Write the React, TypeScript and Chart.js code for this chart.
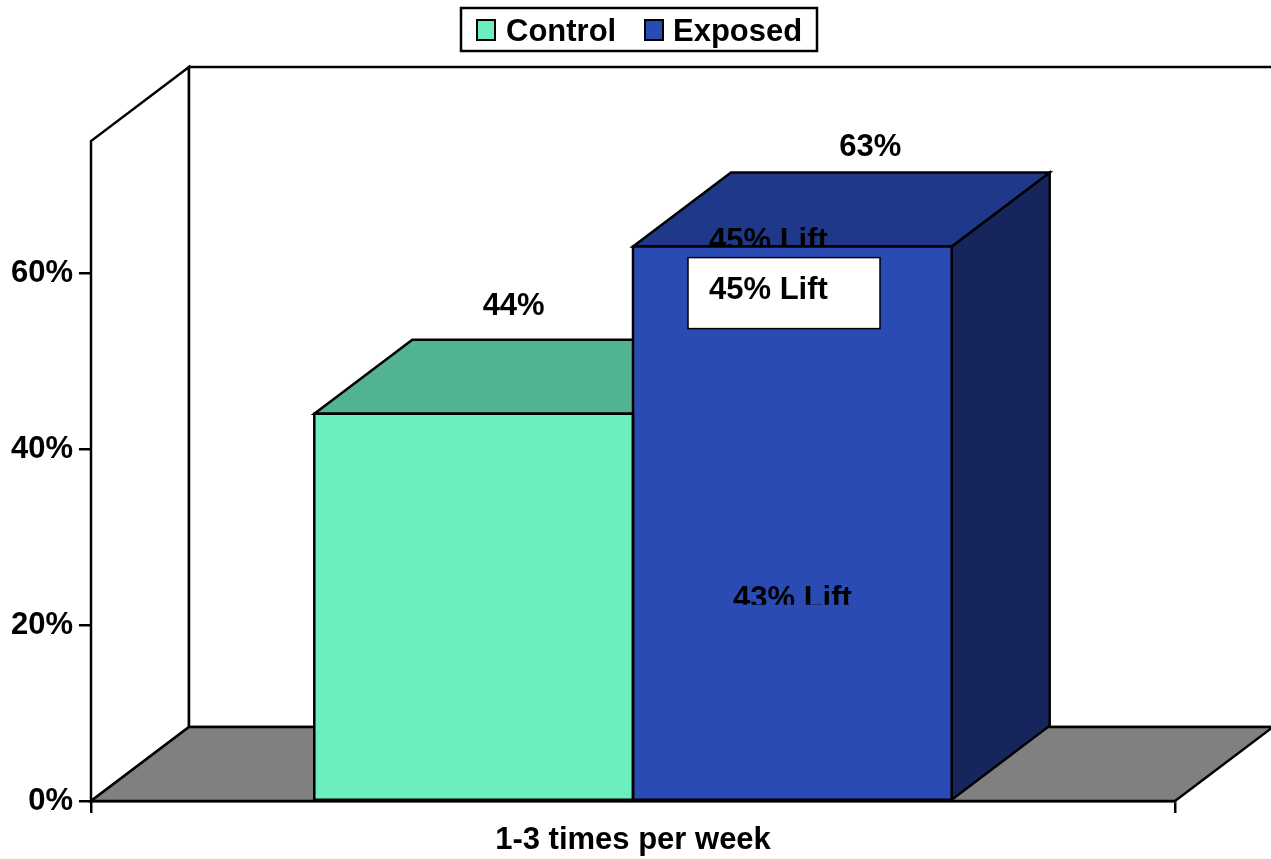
import React, { useEffect, useRef } from 'react';
import { Chart, registerables } from 'chart.js';

Chart.register(...registerables);

// ---- data ----
const categories = ['1-3 times per week'];
const seriesNames = ['Control', 'Exposed'];
const controlValues = [44];
const exposedValues = [63];
const yTickValues = [0, 20, 40, 60];
const yMax = 75;
const liftNotes = ['45% Lift', '43% Lift'];

// ---- styling ----
const W = 1271;
const H = 859;
const FONT = '"Liberation Sans", Arial, Helvetica, sans-serif';
const DEPTH_X = 98;
const DEPTH_Y = 74;
const EDGE = 2.5;
const FLOOR = 'rgb(128,128,128)';
const palette = [
  { front: 'rgb(108,239,190)', top: 'rgb(81,179,143)', side: 'rgb(54,120,95)' },
  { front: 'rgb(42,75,180)', top: 'rgb(32,56,137)', side: 'rgb(22,38,92)' },
];
// value label offsets relative to each bar's front centre / back top edge
const valueLabelShift = [
  { dx: 40, dy: -33 },
  { dx: 78, dy: -25 },
];

type Pt = [number, number];

function poly(ctx: CanvasRenderingContext2D, pts: Pt[], fill?: string) {
  ctx.beginPath();
  ctx.moveTo(pts[0][0], pts[0][1]);
  for (let i = 1; i < pts.length; i++) ctx.lineTo(pts[i][0], pts[i][1]);
  ctx.closePath();
  if (fill) {
    ctx.fillStyle = fill;
    ctx.fill();
  }
  ctx.lineWidth = EDGE;
  ctx.strokeStyle = '#000';
  ctx.lineJoin = 'miter';
  ctx.stroke();
}

const boldFont = `bold 31px ${FONT}`;

const box3d = {
  id: 'box3d',
  beforeDatasetsDraw(chart: any) {
    const { ctx, chartArea: a, scales } = chart;
    const y = scales.y;
    const top = y.getPixelForValue(yMax);
    const bottom = y.getPixelForValue(0);
    ctx.save();
    // side wall, back wall, floor
    poly(ctx, [[a.left, bottom], [a.left, top], [a.left + DEPTH_X, top - DEPTH_Y], [a.left + DEPTH_X, bottom - DEPTH_Y]], '#fff');
    poly(ctx, [[a.left + DEPTH_X, top - DEPTH_Y], [a.right + DEPTH_X, top - DEPTH_Y], [a.right + DEPTH_X, bottom - DEPTH_Y], [a.left + DEPTH_X, bottom - DEPTH_Y]], '#fff');
    poly(ctx, [[a.left, bottom], [a.right, bottom], [a.right + DEPTH_X, bottom - DEPTH_Y], [a.left + DEPTH_X, bottom - DEPTH_Y]], FLOOR);

    // bar side and top faces (front faces are drawn by the bar controller)
    chart.data.datasets.forEach((_ds: any, di: number) => {
      const meta = chart.getDatasetMeta(di);
      meta.data.forEach((bar: any) => {
        const L = bar.x - bar.width / 2;
        const R = bar.x + bar.width / 2;
        const t = bar.y;
        const b = bar.base;
        poly(ctx, [[R, t], [R + DEPTH_X, t - DEPTH_Y], [R + DEPTH_X, b - DEPTH_Y], [R, b]], palette[di].side);
        poly(ctx, [[L, t], [R, t], [R + DEPTH_X, t - DEPTH_Y], [L + DEPTH_X, t - DEPTH_Y]], palette[di].top);
      });
    });

    // note text sitting on the top face of the exposed bar
    const ex = chart.getDatasetMeta(1).data[0];
    ctx.font = boldFont;
    ctx.fillStyle = '#000';
    ctx.textAlign = 'left';
    ctx.textBaseline = 'alphabetic';
    ctx.fillText(liftNotes[0], ex.x - ex.width / 2 + 76, ex.y + 3);
    ctx.restore();
  },
  afterDatasetsDraw(chart: any) {
    const { ctx } = chart;
    ctx.save();
    // re-stroke the bar fronts with a heavier edge
    chart.data.datasets.forEach((_ds: any, di: number) => {
      chart.getDatasetMeta(di).data.forEach((bar: any) => {
        const L = bar.x - bar.width / 2;
        const R = bar.x + bar.width / 2;
        poly(ctx, [[L, bar.y], [R, bar.y], [R, bar.base], [L, bar.base]]);
      });
    });

    ctx.font = boldFont;
    ctx.fillStyle = '#000';
    ctx.textAlign = 'center';
    ctx.textBaseline = 'middle';
    // value labels above each bar
    chart.data.datasets.forEach((ds: any, di: number) => {
      const meta = chart.getDatasetMeta(di);
      meta.data.forEach((bar: any, i: number) => {
        const s = valueLabelShift[di];
        ctx.fillText(`${ds.data[i]}%`, bar.x + s.dx, bar.y - DEPTH_Y + s.dy);
      });
    });

    const ex = chart.getDatasetMeta(1).data[0];
    const exL = ex.x - ex.width / 2;
    // white note box
    const bx = exL + 55;
    const by = ex.y + 11;
    ctx.fillStyle = '#fff';
    ctx.fillRect(bx, by, 192, 71);
    ctx.lineWidth = 1.5;
    ctx.strokeStyle = '#000';
    ctx.strokeRect(bx, by, 192, 71);
    ctx.fillStyle = '#000';
    ctx.textAlign = 'left';
    ctx.textBaseline = 'alphabetic';
    ctx.fillText(liftNotes[0], bx + 21, by + 41);

    // lower note, cut along its bottom
    ctx.save();
    ctx.beginPath();
    ctx.rect(0, 0, W, ex.base - 195);
    ctx.clip();
    ctx.fillText(liftNotes[1], exL + 100, ex.base - 192);
    ctx.restore();
    ctx.restore();
  },
  afterDraw(chart: any) {
    const { ctx } = chart;
    ctx.save();
    // legend box
    ctx.fillStyle = '#fff';
    ctx.fillRect(461, 8, 356, 43);
    ctx.lineWidth = 2.5;
    ctx.strokeStyle = '#000';
    ctx.strokeRect(461, 8, 356, 43);
    const items = [
      { sx: 477, tx: 506 },
      { sx: 645, tx: 673 },
    ];
    ctx.font = boldFont;
    ctx.textAlign = 'left';
    ctx.textBaseline = 'middle';
    items.forEach((it, i) => {
      ctx.fillStyle = palette[i].front;
      ctx.fillRect(it.sx, 20, 18, 20);
      ctx.lineWidth = 2;
      ctx.strokeRect(it.sx, 20, 18, 20);
      ctx.fillStyle = '#000';
      ctx.fillText(seriesNames[i], it.tx, 32);
    });
    ctx.restore();
  },
};

export default function App() {
  const ref = useRef<HTMLCanvasElement | null>(null);

  useEffect(() => {
    if (!ref.current) return;
    const chart = new Chart(ref.current, {
      type: 'bar',
      data: {
        labels: categories,
        datasets: [
          {
            label: seriesNames[0],
            data: controlValues,
            backgroundColor: palette[0].front,
            borderWidth: 0,
          },
          {
            label: seriesNames[1],
            data: exposedValues,
            backgroundColor: palette[1].front,
            borderWidth: 0,
          },
        ],
      },
      options: {
        responsive: false,
        animation: false,
        devicePixelRatio: 1,
        layout: { padding: { top: 141, right: 96, left: 0, bottom: 0 } },
        datasets: { bar: { categoryPercentage: 0.588, barPercentage: 1 } },
        plugins: {
          legend: { display: false },
          tooltip: { enabled: false },
          title: { display: false },
        },
        scales: {
          x: {
            grid: { offset: true, drawOnChartArea: false, drawTicks: true, tickLength: 12, color: '#000', lineWidth: 2.5 },
            border: { display: true, color: '#000', width: 2.5 },
            ticks: { color: '#000', font: { family: FONT, size: 31, weight: 'bold' }, padding: 9 },
            afterFit: (s: any) => { s.height = 58; },
          },
          y: {
            min: 0,
            max: yMax,
            grid: { drawOnChartArea: false, drawTicks: true, tickLength: 12, color: '#000', lineWidth: 2.5 },
            border: { display: true, color: '#000', width: 2.5 },
            ticks: {
              color: '#000',
              font: { family: FONT, size: 31, weight: 'bold' },
              padding: 6,
              callback: (v: any) => `${v}%`,
            },
            afterBuildTicks: (s: any) => { s.ticks = yTickValues.map((v) => ({ value: v })); },
            afterFit: (s: any) => { s.width = 91; },
          },
        },
      },
      plugins: [box3d],
    });
    return () => chart.destroy();
  }, []);

  return (
    <div style={{ position: 'absolute', left: 0, top: 0, width: W, height: H, background: '#fff' }}>
      <canvas ref={ref} width={W} height={H} style={{ display: 'block', width: W, height: H }} />
    </div>
  );
}
